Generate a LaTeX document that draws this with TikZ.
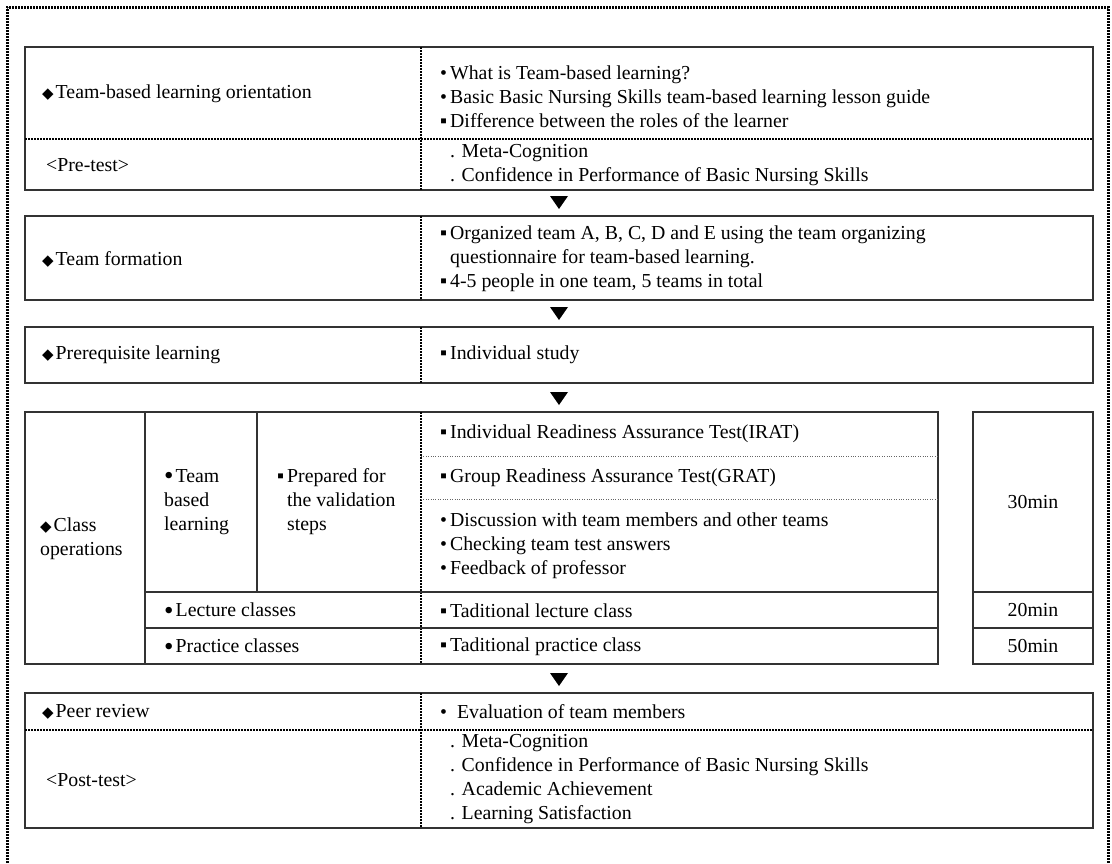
\documentclass[tikz,border=0pt]{standalone}
\usepackage{fontspec}
\setmainfont{Liberation Serif}
\newfontfamily\symf{DejaVu Sans}
\usepackage{tikz}

\newcommand{\dmark}{{\symf\fontsize{15}{15}\selectfont ◆}\hspace{2pt}}
\newcommand{\rdmark}{•\hspace{3pt}}
\newcommand{\bigdot}{\raisebox{-2.6pt}{\fontsize{27}{24}\selectfont •}\hspace{2pt}}
\newcommand{\sqmark}{▪\hspace{3pt}}

\begin{document}
\begin{tikzpicture}[x=1pt, y=-1pt,
    box/.style={draw=black!80, line width=1.2pt, rectangle, inner sep=0pt, outer sep=0pt},
    cell/.style={draw=black!80, line width=1.2pt},
    sepline/.style={line width=2.6pt, dash pattern=on 2pt off 1pt},
    divline/.style={line width=2.8pt, dash pattern=on 2pt off 1pt},
    finedot/.style={draw=black!60, line width=0.8pt, dash pattern=on 0.9pt off 1.5pt},
    txt/.style={anchor=west, align=left, inner sep=0pt, font=\fontsize{19.8}{24}\selectfont},
    flowtip/.style={fill=black}]

    \useasboundingbox (0,0) rectangle (1112,863);

    % outer frame
    \draw[line width=3pt, dash pattern=on 2pt off 1pt] (7,863) -- (7,7) -- (1108,7) -- (1108,863);

    % step boxes
    \node[box, minimum width=1068pt, minimum height=143pt] (OrientBox) at (559,118.5) {};
    \node[box, minimum width=1068pt, minimum height=84pt] (FormBox) at (559,258) {};
    \node[box, minimum width=1068pt, minimum height=56pt] (PrereqBox) at (559,355) {};
    \node[box, minimum width=913pt, minimum height=252pt] (ClassBox) at (481.5,538) {};
    \node[box, minimum width=120pt, minimum height=252pt] (TimeBox) at (1033,538) {};
    \node[box, minimum width=1068pt, minimum height=135pt] (PeerBox) at (559,760.5) {};

    % dotted row separators
    \draw[sepline] (25,139) -- (1093,139);
    \draw[sepline] (25,730) -- (1093,730);

    % dotted column dividers
    \foreach \b in {OrientBox, FormBox, PrereqBox, ClassBox, PeerBox}
        \draw[divline] (\b.north -| 421,0) -- (\b.south -| 421,0);

    % class operations grid
    \draw[cell] (145,412) -- (145,664);
    \draw[cell] (257,412) -- (257,592);
    \draw[cell] (145,592) -- (938,592);
    \draw[cell] (145,628) -- (938,628);
    \draw[finedot] (421,456) -- (938,456);
    \draw[finedot] (421,499) -- (938,499);
    \draw[cell] (973,592) -- (1093,592);
    \draw[cell] (973,628) -- (1093,628);

    % flow arrows
    \foreach \nxt in {FormBox, PrereqBox, ClassBox, PeerBox}
        \fill[flowtip] (\nxt.north -| OrientBox.center) ++(-9,-20) -- ++(18,0) -- ++(-9,13) -- cycle;

    % left column labels
    \node[txt] (OrientTxt) at (42,94) {\dmark Team-based learning orientation};
    \node[txt] (PreTxt) at (46,165) {<Pre-test>};
    \node[txt] (FormTxt) at (42,259) {\dmark Team formation};
    \node[txt] (PrereqTxt) at (42,355) {\dmark Prerequisite learning};
    \node[txt] (ClassTxt) at (40,539) {\dmark Class\\operations};
    \node[txt] (TeamTxt) at (164,502) {\bigdot Team\\based\\learning};
    \node[txt] (PrepTxt) at (277,502) {\sqmark Prepared for\\\hphantom{\sqmark}the validation\\\hphantom{\sqmark}steps};
    \node[txt] (LectTxt) at (164,611) {\bigdot Lecture classes};
    \node[txt] (PracTxt) at (164,647) {\bigdot Practice classes};
    \node[txt] (PeerTxt) at (42,712) {\dmark Peer review};
    \node[txt] (PostTxt) at (46,780) {<Post-test>};

    % right column contents
    \node[txt] (OrientList) at (440,97) {\rdmark What is Team-based learning?\\\rdmark Basic Basic Nursing Skills team-based learning lesson guide\\\sqmark Difference between the roles of the learner};
    \node[txt] (PreList) at (450,165.5) {. Meta-Cognition\\. Confidence in Performance of Basic Nursing Skills};
    \node[txt] (FormList) at (440,259) {\sqmark Organized team A, B, C, D and E using the team organizing\\\hphantom{\sqmark}questionnaire for team-based learning.\\\sqmark 4-5 people in one team, 5 teams in total};
    \node[txt] (PrereqList) at (440,355) {\sqmark Individual study};
    \node[txt] (IratTxt) at (440,434) {\sqmark Individual Readiness Assurance Test(IRAT)};
    \node[txt] (GratTxt) at (440,478) {\sqmark Group Readiness Assurance Test(GRAT)};
    \node[txt] (DiscList) at (440,546) {\rdmark Discussion with team members and other teams\\\rdmark Checking team test answers\\\rdmark Feedback of professor};
    \node[txt] (LectList) at (440,611) {\sqmark Taditional lecture class};
    \node[txt] (PracList) at (440,647) {\sqmark Taditional practice class};
    \node[txt] (PeerList) at (440,712) {•\hspace{10pt}Evaluation of team members};
    \node[txt] (PostList) at (450,779.5) {. Meta-Cognition\\. Confidence in Performance of Basic Nursing Skills\\. Academic Achievement\\. Learning Satisfaction};

    % time column
    \node[txt, anchor=center] (T30) at (1033,502) {30min};
    \node[txt, anchor=center] (T20) at (1033,610) {20min};
    \node[txt, anchor=center] (T50) at (1033,646) {50min};

\end{tikzpicture}
\end{document}
